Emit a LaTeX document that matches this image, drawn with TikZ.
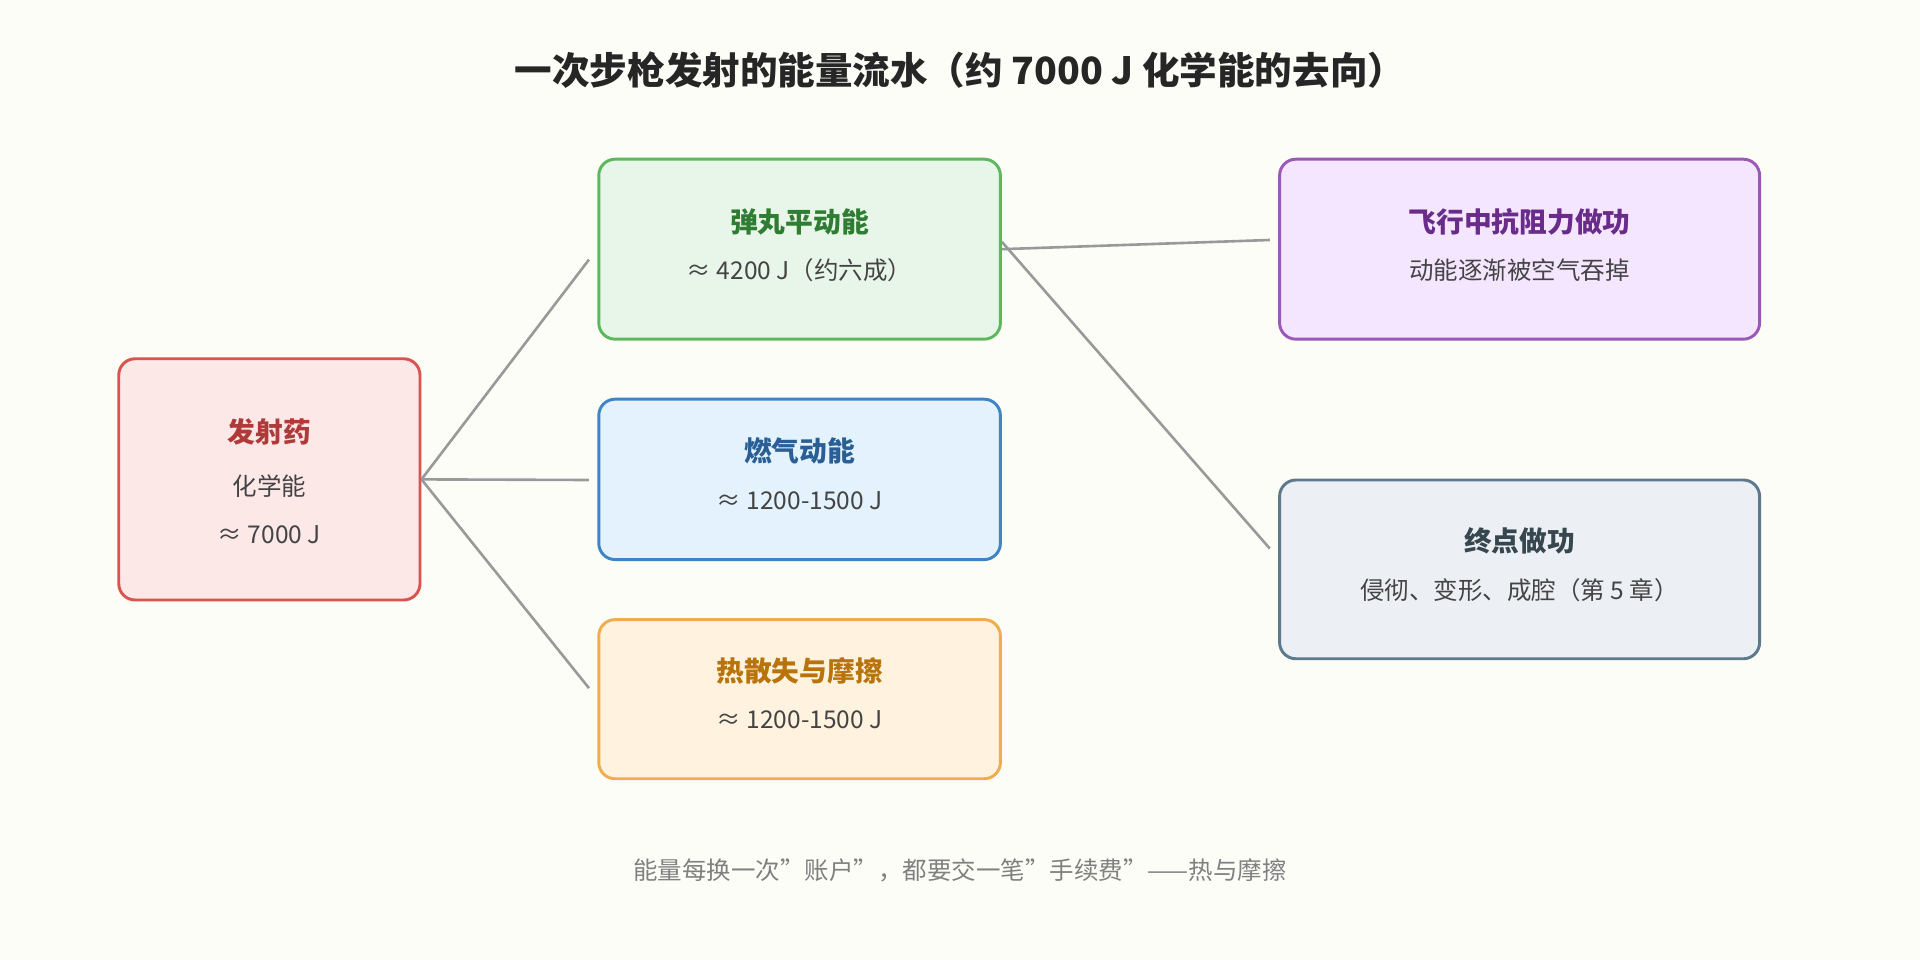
\documentclass[tikz,border=0pt]{standalone}
\usepackage{fontspec}
\setmainfont{Noto Sans CJK SC}
\usepackage{tikz}
\usetikzlibrary{positioning}
\definecolor{bg}{HTML}{FDFDF8}
\definecolor{redB}{HTML}{D9534F}\definecolor{redF}{HTML}{FDE8E8}\definecolor{redT}{HTML}{B03A3A}
\definecolor{grnB}{HTML}{5CB85C}\definecolor{grnF}{HTML}{E8F5E9}\definecolor{grnT}{HTML}{2E7D32}
\definecolor{bluB}{HTML}{3D85C6}\definecolor{bluF}{HTML}{E3F2FD}\definecolor{bluT}{HTML}{2A5F95}
\definecolor{orgB}{HTML}{F0AD4E}\definecolor{orgF}{HTML}{FFF3E0}\definecolor{orgT}{HTML}{B8740A}
\definecolor{purB}{HTML}{9B59B6}\definecolor{purF}{HTML}{F5E6FF}\definecolor{purT}{HTML}{6A2C8A}
\definecolor{slaB}{HTML}{5D7A8C}\definecolor{slaF}{HTML}{ECEFF3}\definecolor{slaT}{HTML}{37474F}
\definecolor{txt}{HTML}{444444}
\tikzset{
    block/.style n args = {2}{
        draw = #1, fill = #2, line width = 1.8pt,
        rounded corners = 10pt, inner sep = 0pt
    },
    head/.style = {font = \fontsize{17}{20}\selectfont\bfseries},
    body/.style = {font = \fontsize{15}{18}\selectfont, text = txt},
    line/.style = {draw = black!40, line width = 1.6pt}
}

\begin{document}
\begin{tikzpicture}[x=0.75pt, y=-0.75pt]
    \useasboundingbox[fill=bg] (0,0) rectangle (1568,784);

    % Title
    \node[font=\fontsize{23}{28}\selectfont\bfseries, text=black!85] (title) at (784,57)
        {一次步枪发射的能量流水（约 7000 J 化学能的去向）};

    % Blocks
    \node[block={redB}{redF}, minimum width=246*0.75pt, minimum height=197*0.75pt] (prop) at (220,391.5) {};
    \node[block={grnB}{grnF}, minimum width=328*0.75pt, minimum height=147*0.75pt] (bullet) at (653,203.5) {};
    \node[block={bluB}{bluF}, minimum width=328*0.75pt, minimum height=131*0.75pt] (gas) at (653,391.5) {};
    \node[block={orgB}{orgF}, minimum width=328*0.75pt, minimum height=130*0.75pt] (heat) at (653,571) {};
    \node[block={purB}{purF}, minimum width=392*0.75pt, minimum height=147*0.75pt] (drag) at (1241,203.5) {};
    \node[block={slaB}{slaF}, minimum width=392*0.75pt, minimum height=146*0.75pt] (term) at (1241,465) {};

    % Texts
    \node[head, text=redT] at (220,353) {发射药};
    \node[body] at (220,397) {化学能};
    \node[body] at (220,437) {≈ 7000 J};
    \node[head, text=grnT] at (653,181) {弹丸平动能};
    \node[body] at (653,221) {≈ 4200 J（约六成）};
    \node[head, text=bluT] at (653,368) {燃气动能};
    \node[body] at (653,409) {≈ 1200-1500 J};
    \node[head, text=orgT] at (653,548) {热散失与摩擦};
    \node[body] at (653,588) {≈ 1200-1500 J};
    \node[head, text=purT] at (1241,181) {飞行中抗阻力做功};
    \node[body] at (1241,221) {动能逐渐被空气吞掉};
    \node[head, text=slaT] at (1241,442) {终点做功};
    \node[body] at (1241,482) {侵彻、变形、成腔（第 5 章）};

    % Footer
    \node[body, text=black!50] (foot) at (784,711)
        {能量每换一次"账户"，都要交一笔"手续费"——热与摩擦};

    % Lines
    \coordinate (p1) at (481,212);
    \coordinate (p2) at (481,392);
    \coordinate (p3) at (481,562);
    \coordinate (q1) at (1037,196);
    \coordinate (q2) at (1037,448);
    \draw[line] (prop.east) -- (p1);
    \draw[line] (prop.east) -- (p2);
    \draw[line] (prop.east) -- (p3);
    \draw[line] (bullet.east) -- (q1);
    \draw[line] ([yshift=4.5pt]bullet.east) -- (q2);
\end{tikzpicture}
\end{document}
